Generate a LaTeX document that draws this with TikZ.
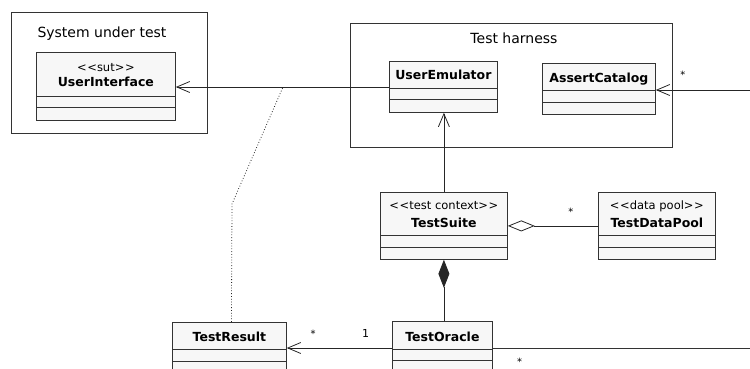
\documentclass[tikz,border=0pt]{standalone}
\usepackage{fontspec}
\setmainfont{DejaVu Sans}
\usetikzlibrary{calc,arrows.meta}

% guillemets written as two separate angle brackets
\newcommand{\stlt}{<\kern0.6pt<\kern0pt}
\newcommand{\stgt}{\kern0pt>\kern0.6pt>}

\tikzset{
	pkgbox/.style={draw=black!80, line width=0.8pt, anchor=north west, inner sep=0pt},
	pkgtitle/.style={font=\fontsize{14}{16}\selectfont, anchor=base, inner sep=0pt},
	classbox/.style={draw=black!80, fill=black!3, line width=0.8pt, anchor=north west, inner sep=0pt},
	divider/.style={draw=black!80, line width=0.8pt},
	clsname/.style={font=\fontsize{12.5}{15}\selectfont\bfseries, anchor=base, inner sep=0pt},
	stereo/.style={font=\fontsize{11.5}{13}\selectfont, anchor=base, inner sep=0pt},
	mult/.style={font=\fontsize{10}{12}\selectfont, inner sep=0pt},
	navig/.style={draw=black!85, line width=0.8pt, -{Straight Barb[length=13pt,width=11pt]}},
	aggreg/.style={draw=black!85, line width=0.8pt, -{Diamond[open,length=27pt,width=11pt]}},
	compos/.style={draw=black!85, line width=0.8pt, -{Diamond[length=28pt,width=11pt]}},
	note/.style={draw=black!85, line width=0.8pt, dotted}
}

\begin{document}
\begin{tikzpicture}[x=1pt,y=-1pt]
	\useasboundingbox (0,0) rectangle (750,369);
	\clip (0,0) rectangle (750,369);

	% packages
	\node[pkgbox, minimum width=196pt, minimum height=121pt] (sut) at (11,12) {};
	\node[pkgtitle] (sut-t) at (102,38) {System under test};
	\node[pkgbox, minimum width=322pt, minimum height=124pt] (harness) at (350,23) {};
	\node[pkgtitle] (harness-t) at (514,44) {Test harness};

	% classes
	\node[classbox, minimum width=139pt, minimum height=68pt] (ui) at (36,52) {};
	\draw[divider] ($(ui.north west)+(0,44)$) -- ++(139,0);
	\draw[divider] ($(ui.north west)+(0,55)$) -- ++(139,0);
	\node[stereo] (ui-st) at ($(ui.north)+(0,19)$) {\stlt sut\stgt};
	\node[clsname] (ui-nm) at ($(ui.north)+(0,35)$) {UserInterface};

	\node[classbox, minimum width=108pt, minimum height=51pt] (ue) at (389,61) {};
	\draw[divider] ($(ue.north west)+(0,27)$) -- ++(108,0);
	\draw[divider] ($(ue.north west)+(0,38)$) -- ++(108,0);
	\node[clsname] (ue-nm) at ($(ue.north)+(0,19)$) {UserEmulator};

	\node[classbox, minimum width=113pt, minimum height=51pt] (ac) at (542,63) {};
	\draw[divider] ($(ac.north west)+(0,27)$) -- ++(113,0);
	\draw[divider] ($(ac.north west)+(0,39)$) -- ++(113,0);
	\node[clsname] (ac-nm) at ($(ac.north)+(0,19)$) {AssertCatalog};

	\node[classbox, minimum width=127pt, minimum height=67pt] (ts) at (380,192) {};
	\draw[divider] ($(ts.north west)+(0,43)$) -- ++(127,0);
	\draw[divider] ($(ts.north west)+(0,55)$) -- ++(127,0);
	\node[stereo] (ts-st) at ($(ts.north)+(0,17)$) {\stlt test context\stgt};
	\node[clsname] (ts-nm) at ($(ts.north)+(0,35)$) {TestSuite};

	\node[classbox, minimum width=117pt, minimum height=67pt] (dp) at (598,192) {};
	\draw[divider] ($(dp.north west)+(0,43)$) -- ++(117,0);
	\draw[divider] ($(dp.north west)+(0,55)$) -- ++(117,0);
	\node[stereo] (dp-st) at ($(dp.north)+(0,17)$) {\stlt data pool\stgt};
	\node[clsname] (dp-nm) at ($(dp.north)+(0,35)$) {TestDataPool};

	\node[classbox, minimum width=114pt, minimum height=70pt] (tr) at (172,322) {};
	\draw[divider] ($(tr.north west)+(0,27)$) -- ++(114,0);
	\draw[divider] ($(tr.north west)+(0,39)$) -- ++(114,0);
	\node[clsname] (tr-nm) at ($(tr.north)+(0,19)$) {TestResult};

	\node[classbox, minimum width=100pt, minimum height=70pt] (to) at (392,321) {};
	\draw[divider] ($(to.north west)+(0,28)$) -- ++(100,0);
	\draw[divider] ($(to.north west)+(0,39)$) -- ++(100,0);
	\node[clsname] (to-nm) at ($(to.north)+(0,20)$) {TestOracle};

	% connectors
	\coordinate (acsrc) at (760,90);
	\coordinate (toend) at (760,348);
	\coordinate (bend) at (232,204);
	\coordinate (hit) at (283,87);

	\draw[navig] ($(ue.north west)+(0,26)$) -- ($(ui.north east)+(0,35)$);
	\draw[navig] (acsrc) -- node[mult, pos=0.74, above=11pt] (ac-m) {*} (ac.east |- acsrc);
	\draw[navig] (ts.north) -- (ts.north |- ue.south);
	\draw[aggreg] (dp.west) -- node[mult, pos=0.3, above=10pt] (dp-m) {*} (ts.east);
	\draw[compos] (ts.south |- to.north) -- (ts.south);
	\draw[navig] ($(to.north west)+(0,27)$) coordinate (tol)
		-- node[mult, pos=0.75, above=10pt] (tr-m) {*}
		node[mult, pos=0.25, above=10pt, font=\fontsize{11}{13}\selectfont] (to-m) {1}
		(tr.east |- tol);
	\draw[divider] ($(to.north east)+(0,27)$) -- node[mult, pos=0.1, below=10pt] (te-m) {*} (toend);
	\draw[note] ($(tr.north)+(2,0)$) -- (bend) -- (hit);
\end{tikzpicture}
\end{document}
